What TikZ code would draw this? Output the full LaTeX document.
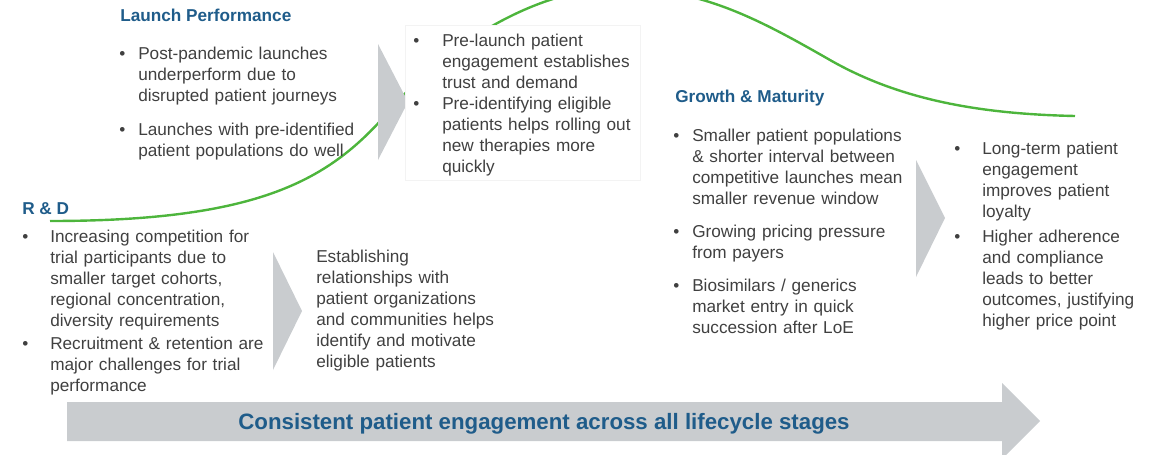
\documentclass[tikz,border=0pt]{standalone}
\usepackage{fontspec}
\setmainfont{Liberation Sans}
\usepackage{tikz}
\usetikzlibrary{positioning}
\definecolor{titleblue}{HTML}{1F5C8A}
\definecolor{bodygray}{HTML}{404040}
\definecolor{chevgray}{HTML}{C9CCCF}
\definecolor{curvegreen}{HTML}{4DB53C}
\definecolor{boxline}{HTML}{F3F3F3}

% bullet with hanging indent: [gap above]{indent}{text}
\newcommand{\bitem}[3][0pt]{\par\vspace{#1}\hangindent=#2\hangafter=1\noindent\makebox[#2][l]{\textbullet}\strut#3\par}

\begin{document}
\begin{tikzpicture}[x=0.75pt, y=-0.75pt,
  body/.style={anchor=north west, inner sep=0pt, align=left, text=bodygray, font=\fontsize{12.9}{15.75}\selectfont,
    execute at begin node={\setlength{\parskip}{0pt}}},
  stage/.style={anchor=north west, inner sep=0pt, text=titleblue, font=\fontsize{12.9}{15.75}\selectfont\bfseries},
  chevron/.style={fill=chevgray}]
  \useasboundingbox (0,0) rectangle (1165,454);
  \clip (0,0) rectangle (1165,454);

  % Lifecycle curve
  \draw[curvegreen, line width=1.8pt] (50,221) .. controls (260,221) and (330,180) .. (390,110)
    .. controls (450,40) and (545,-15) .. (625,-12)
    .. controls (705,-10) and (760,20) .. (830,60)
    .. controls (900,100) and (980,114) .. (1075,116);

  % Chevrons
  \fill[chevron] (378,44) -- (408,102) -- (378,160) -- cycle;
  \fill[chevron] (273,252) -- (302,311) -- (273,370) -- cycle;
  \fill[chevron] (916,160) -- (945,218) -- (916,277) -- cycle;

  % Stage titles
  \node[stage] (launchtitle) at (120,7) {\strut Launch Performance};
  \node[stage] (rdtitle) at (22,200) {\strut R \& D};
  \node[stage] (growthtitle) at (675,88) {\strut Growth \& Maturity};

  % Launch
  \node[body, text width=190pt] (launch) at (119,38)
    {\bitem{14.25pt}{Post-pandemic launches\newline underperform due to\newline disrupted patient journeys}%
     \bitem[9.75pt]{14.25pt}{Launches with pre-identified\newline patient populations do well}};

  \node[draw=boxline, fill=white, minimum width=176.25pt, minimum height=116.25pt, anchor=north west, inner sep=0pt] (prebox) at (405,25) {};
  \node[body, text width=170pt, below right=0pt and 6pt of prebox.north west] (prelaunch)
    {\bitem{21.75pt}{Pre-launch patient\newline engagement establishes\newline trust and demand}%
     \bitem{21.75pt}{Pre-identifying eligible\newline patients helps rolling out\newline new therapies more\newline quickly}};

  % R & D
  \node[body, text width=200pt] (rd) at (22,221)
    {\bitem{21pt}{Increasing competition for\newline trial participants due to\newline smaller target cohorts,\newline regional concentration,\newline diversity requirements}%
     \bitem[1.5pt]{21pt}{Recruitment \& retention are\newline major challenges for trial\newline performance}};
  \node[body, text width=160pt] (establish) at (316,248)
    {\strut Establishing\\relationships with\\patient organizations\\and communities helps\\identify and motivate\\eligible patients};

  % Growth & Maturity
  \node[body, text width=190pt] (growth) at (673,120)
    {\bitem{14.25pt}{Smaller patient populations\newline \& shorter interval between\newline competitive launches mean\newline smaller revenue window}%
     \bitem[9pt]{14.25pt}{Growing pricing pressure\newline from payers}%
     \bitem[9pt]{14.25pt}{Biosimilars / generics\newline market entry in quick\newline succession after LoE}};
  \node[body, text width=170pt] (loyalty) at (954,133)
    {\bitem{21pt}{Long-term patient\newline engagement\newline improves patient\newline loyalty}%
     \bitem[3pt]{21pt}{Higher adherence\newline and compliance\newline leads to better\newline outcomes, justifying\newline higher price point}};

  % Bottom arrow
  \fill[chevron] (67,402) -- (1002,402) -- (1002,383) -- (1040,421) -- (1002,459) -- (1002,441) -- (67,441) -- cycle;
  \node[anchor=base, inner sep=0pt, text=titleblue, font=\fontsize{16.7}{20}\selectfont\bfseries] (consistent) at (544,429)
    {Consistent patient engagement across all lifecycle stages};
\end{tikzpicture}
\end{document}
